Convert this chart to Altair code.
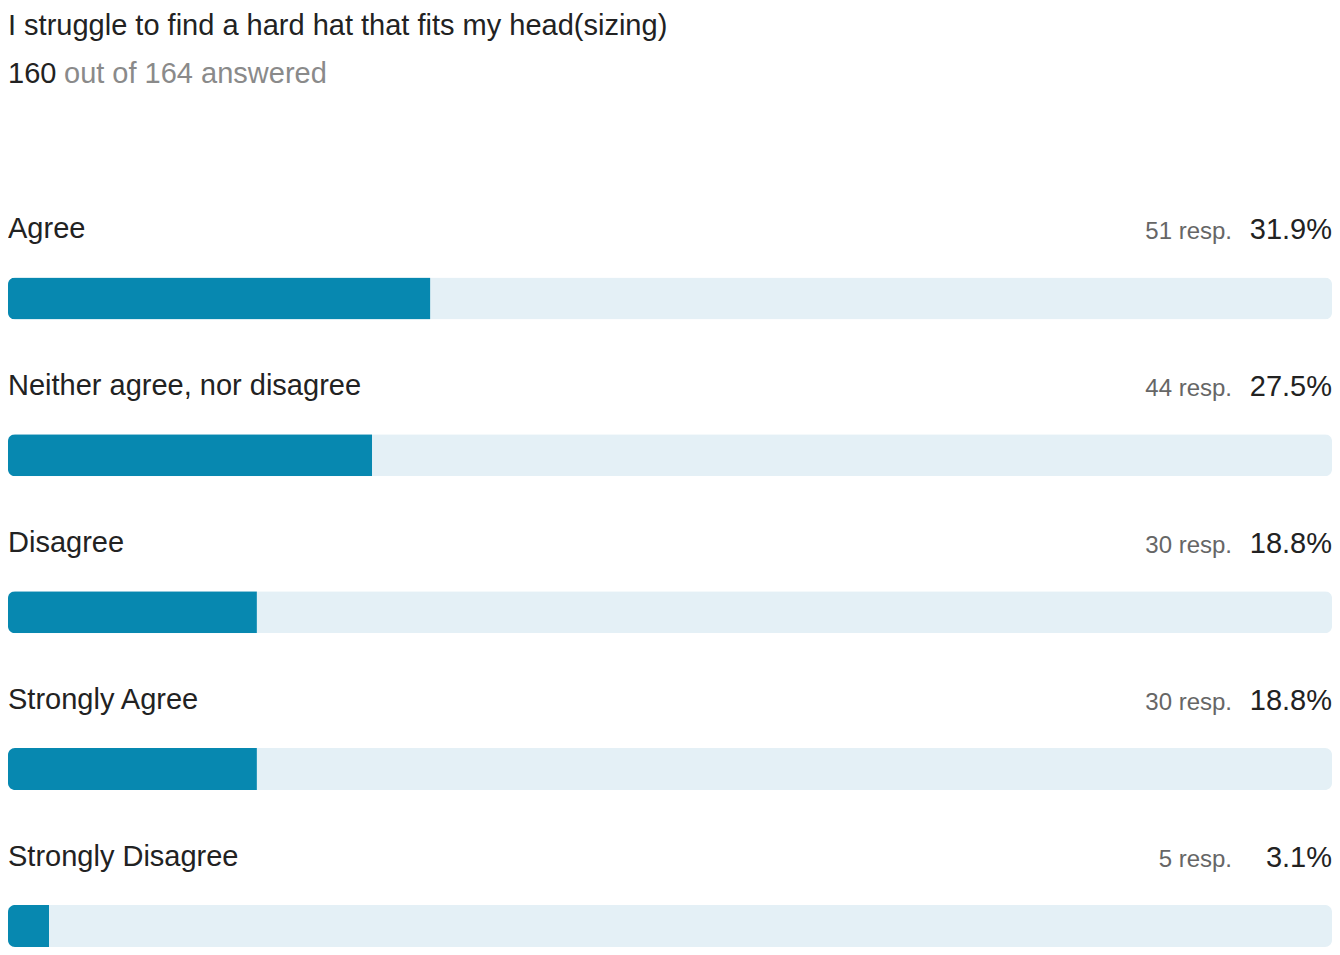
import altair as alt
import pandas as pd

# ---- data ----
categories = ["Agree", "Neither agree, nor disagree", "Disagree", "Strongly Agree", "Strongly Disagree"]
responses = [51, 44, 30, 30, 5]
percents = [31.9, 27.5, 18.8, 18.8, 3.1]
question = "I struggle to find a hard hat that fits my head(sizing)"
answered = 160
total = 164

df = pd.DataFrame({"cat": categories, "resp": responses, "pct": percents})
df["full"] = 100
df["resp_label"] = df["resp"].astype(str) + " resp."
df["pct_label"] = df["pct"].map(lambda v: f"{v:.1f}%")

W, H = 1324, 939
FONT = "Liberation Sans"
DARK = "#222222"
BLUE = "#0788b0"
LIGHT = "#e4f0f6"

yenc = alt.Y("cat:N", sort=categories, axis=None,
             scale=alt.Scale(range=[212.0, 996.4], paddingInner=0, paddingOuter=0))
xscale = alt.Scale(domain=[0, 100], range=[0, W])

bg = alt.Chart(df).mark_bar(size=42, cornerRadius=7, color=LIGHT).encode(
    x=alt.X("full:Q", scale=xscale, axis=None), y=yenc)
fg = alt.Chart(df).mark_bar(size=42, cornerRadiusTopLeft=7, cornerRadiusBottomLeft=7, color=BLUE).encode(
    x=alt.X("pct:Q", scale=xscale, axis=None), y=yenc)

labels = alt.Chart(df).mark_text(align="left", baseline="alphabetic", dy=-60, fontSize=29,
                                 font=FONT, color=DARK).encode(
    x=alt.value(0), y=yenc, text="cat:N")
resp = alt.Chart(df).mark_text(align="right", baseline="alphabetic", dy=-59, fontSize=24,
                               font=FONT, color="#666666").encode(
    x=alt.value(W - 100), y=yenc, text="resp_label:N")
pct = alt.Chart(df).mark_text(align="right", baseline="alphabetic", dy=-59, fontSize=29,
                              font=FONT, color=DARK).encode(
    x=alt.value(W), y=yenc, text="pct_label:N")

head = pd.DataFrame({"t": [question]})
title = alt.Chart(head).mark_text(align="left", baseline="alphabetic", fontSize=29,
                                  font=FONT, color=DARK).encode(
    x=alt.value(0), y=alt.value(27), text="t:N")
sub1 = alt.Chart(pd.DataFrame({"t": [str(answered)]})).mark_text(
    align="left", baseline="alphabetic", fontSize=29, font=FONT, color=DARK).encode(
    x=alt.value(0), y=alt.value(75), text="t:N")
sub2 = alt.Chart(pd.DataFrame({"t": [f"out of {total} answered"]})).mark_text(
    align="left", baseline="alphabetic", fontSize=29, font=FONT, color="#8a8a8a").encode(
    x=alt.value(56), y=alt.value(75), text="t:N")

chart = alt.layer(bg, fg, labels, resp, pct, title, sub1, sub2).properties(
    width=W, height=H, padding=0, background="white",
    autosize=alt.AutoSizeParams(type="none")
).configure_view(stroke=None)

chart.save("out.html", embed_options={"renderer": "svg", "actions": False})
